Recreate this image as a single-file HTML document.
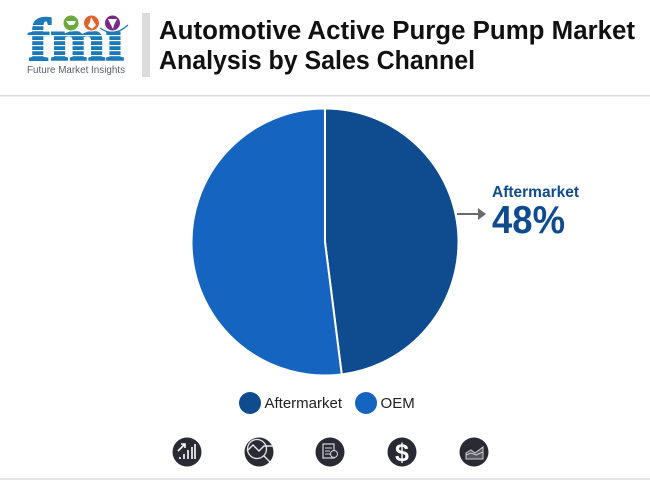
<!DOCTYPE html>
<html>
<head>
<meta charset="utf-8">
<title>Automotive Active Purge Pump Market Analysis by Sales Channel</title>
<style>
html,body{margin:0;padding:0;background:#fff}
body{width:650px;height:480px;overflow:hidden}
svg{display:block;font-family:"Liberation Sans",sans-serif}
</style>
</head>
<body>
<svg id="chart" width="650" height="480" viewBox="0 0 650 480" xmlns="http://www.w3.org/2000/svg">
  <rect x="0" y="0" width="650" height="480" fill="#ffffff"/>

  <g>
    <text x="28" y="60" font-family="'Liberation Serif',serif" font-weight="700" font-size="60" fill="#1c7ab8" stroke="#1c7ab8" stroke-width="1.6" textLength="96" lengthAdjust="spacingAndGlyphs">fmi</text>
    <g fill="#ffffff">
      <rect x="26" y="25" width="102" height="1.2"/><rect x="26" y="30" width="102" height="1.2"/>
      <rect x="26" y="35" width="102" height="1.2"/><rect x="26" y="40" width="102" height="1.2"/>
      <rect x="26" y="45" width="102" height="1.2"/><rect x="26" y="50" width="102" height="1.2"/>
      <rect x="26" y="55" width="102" height="1.2"/>
    </g>
    <circle cx="71" cy="23" r="8" fill="#6aa93c" stroke="#ffffff" stroke-width="1"/>
    <path d="M66 21h10l-2 4h-5z" fill="#ffffff"/>
    <circle cx="91.500" cy="23" r="8" fill="#e2622b" stroke="#ffffff" stroke-width="1"/>
    <path d="M91 17l3 5 2 3-4 4-4-3 2-4z" fill="#ffffff"/>
    <circle cx="112.500" cy="23" r="8" fill="#7a2a86" stroke="#ffffff" stroke-width="1"/>
    <path d="M108 19h9l-3 6-1 4-2-4z" fill="#ffffff"/>
    <path d="M100 28 Q114 38 128 25" fill="none" stroke="#1c7ab8" stroke-width="1.2"/>
    <text x="27" y="73" font-size="10" fill="#5a5f66" textLength="98" lengthAdjust="spacingAndGlyphs">Future Market Insights</text>
  </g>

  <rect x="142" y="13" width="8" height="64" fill="#dcdcdc"/>
  <text x="159" y="39" font-size="25.500" font-weight="700" fill="#111111" textLength="476" lengthAdjust="spacingAndGlyphs">Automotive Active Purge Pump Market</text>
  <text x="159" y="69" font-size="25.500" font-weight="700" fill="#111111" textLength="316" lengthAdjust="spacingAndGlyphs">Analysis by Sales Channel</text>
  <rect x="0" y="95" width="650" height="1.5" fill="#d9d9d9"/>

  <g id="slices"></g>

  <line x1="457" y1="214" x2="479" y2="214" stroke="#6b6b6b" stroke-width="2"/>
  <polygon points="478,208 486,214 478,220" fill="#6b6b6b"/>
  <text id="callout-label" x="492" y="197" font-size="16" font-weight="700" fill="#0f4c8f" textLength="87" lengthAdjust="spacingAndGlyphs"></text>
  <text id="callout-value" x="492" y="233" font-size="39" font-weight="700" fill="#0f4c8f" textLength="73" lengthAdjust="spacingAndGlyphs"></text>

  <g id="legend"></g>

  <g>
    <g>
      <circle cx="187" cy="452" r="14.5" fill="#2a2a35"/>
      <path d="M180 459v-2M184 459v-5M188 459v-9M192 459v-12M195 459v-15" stroke="#e8e8e8" stroke-width="1.8" fill="none"/>
      <path d="M178 451l7-7M181 444h4v4" stroke="#ffffff" stroke-width="1.6" fill="none"/>
    </g>
    <g>
      <circle cx="259" cy="452" r="14.5" fill="#2a2a35"/>
      <circle cx="257" cy="449" r="9.5" fill="none" stroke="#e8e8e8" stroke-width="1.3"/>
      <path d="M247 451l6-6 6 6 5-5h9M264 456l8 8" stroke="#e8e8e8" stroke-width="1.4" fill="none"/>
    </g>
    <g>
      <circle cx="330" cy="452" r="14.5" fill="#2a2a35"/>
      <rect x="323" y="444" width="11" height="14" fill="none" stroke="#d8d8d8" stroke-width="1.2"/>
      <path d="M325 448h7M325 451h5M325 454h5" stroke="#d8d8d8" stroke-width="1"/>
      <circle cx="334" cy="454" r="3.5" fill="#2a2a35" stroke="#d8d8d8" stroke-width="1"/>
    </g>
    <g>
      <circle cx="402" cy="452" r="14.5" fill="#2a2a35"/>
      <text x="402" y="461" font-size="25" font-weight="700" fill="#ffffff" text-anchor="middle">$</text>
    </g>
    <g>
      <circle cx="474" cy="452" r="14.5" fill="#2a2a35"/>
      <path d="M466 459v-6l5-3 4 3 8-6v12z" fill="#55555f" stroke="#cfcfcf" stroke-width="1"/>
      <path d="M466 455l5-2 5 2 7-3" fill="none" stroke="#cfcfcf" stroke-width="1"/>
    </g>
  </g>

  <rect x="0" y="478" width="650" height="2" fill="#e6e6e6"/>
</svg>
<script>
var categories = ['Aftermarket', 'OEM'];
var shares = [48, 52];
var colors = ['#0f4c8f', '#1565c0'];
var calloutIndex = 0;

var NS = 'http://www.w3.org/2000/svg';
var cx = 325, cy = 242, radius = 133.5;

function angleOf(cumulative, total) {
  return cumulative / total * 2 * Math.PI;
}
function pointAt(angle) {
  return [cx + radius * Math.sin(angle), cy - radius * Math.cos(angle)];
}

var total = shares.reduce(function (a, b) { return a + b; }, 0);
var sliceGroup = document.getElementById('slices');
var running = 0;
shares.forEach(function (value, i) {
  var a0 = angleOf(running, total);
  running += value;
  var a1 = angleOf(running, total);
  var p0 = pointAt(a0), p1 = pointAt(a1);
  var large = (a1 - a0) > Math.PI ? 1 : 0;
  var path = document.createElementNS(NS, 'path');
  path.setAttribute('d', 'M' + cx + ' ' + cy + 'L' + p0[0] + ' ' + p0[1] +
    'A' + radius + ' ' + radius + ' 0 ' + large + ' 1 ' + p1[0] + ' ' + p1[1] + 'Z');
  path.setAttribute('fill', colors[i]);
  path.setAttribute('stroke', '#ffffff');
  path.setAttribute('stroke-width', '2');
  path.setAttribute('stroke-linejoin', 'round');
  
  
  sliceGroup.appendChild(path);
});

var calloutLabel = document.getElementById('callout-label');
calloutLabel.textContent = categories[calloutIndex];
var calloutValue = document.getElementById('callout-value');
calloutValue.textContent = shares[calloutIndex] + '%';

var legendGroup = document.getElementById('legend');
var legendCursor = 239;
categories.forEach(function (name, i) {
  var swatch = document.createElementNS(NS, 'circle');
  swatch.setAttribute('cx', legendCursor + 11);
  swatch.setAttribute('cy', 403);
  swatch.setAttribute('r', 11);
  swatch.setAttribute('fill', colors[i]);
  
  
  legendGroup.appendChild(swatch);
  var label = document.createElementNS(NS, 'text');
  label.setAttribute('x', legendCursor + 25.5);
  label.setAttribute('y', 408);
  label.setAttribute('font-size', '15');
  label.setAttribute('fill', '#222222');
  
  
  label.textContent = name;
  legendGroup.appendChild(label);
  legendCursor += 25.5 + label.getComputedTextLength() + 13;
});
</script>
</body>
</html>
